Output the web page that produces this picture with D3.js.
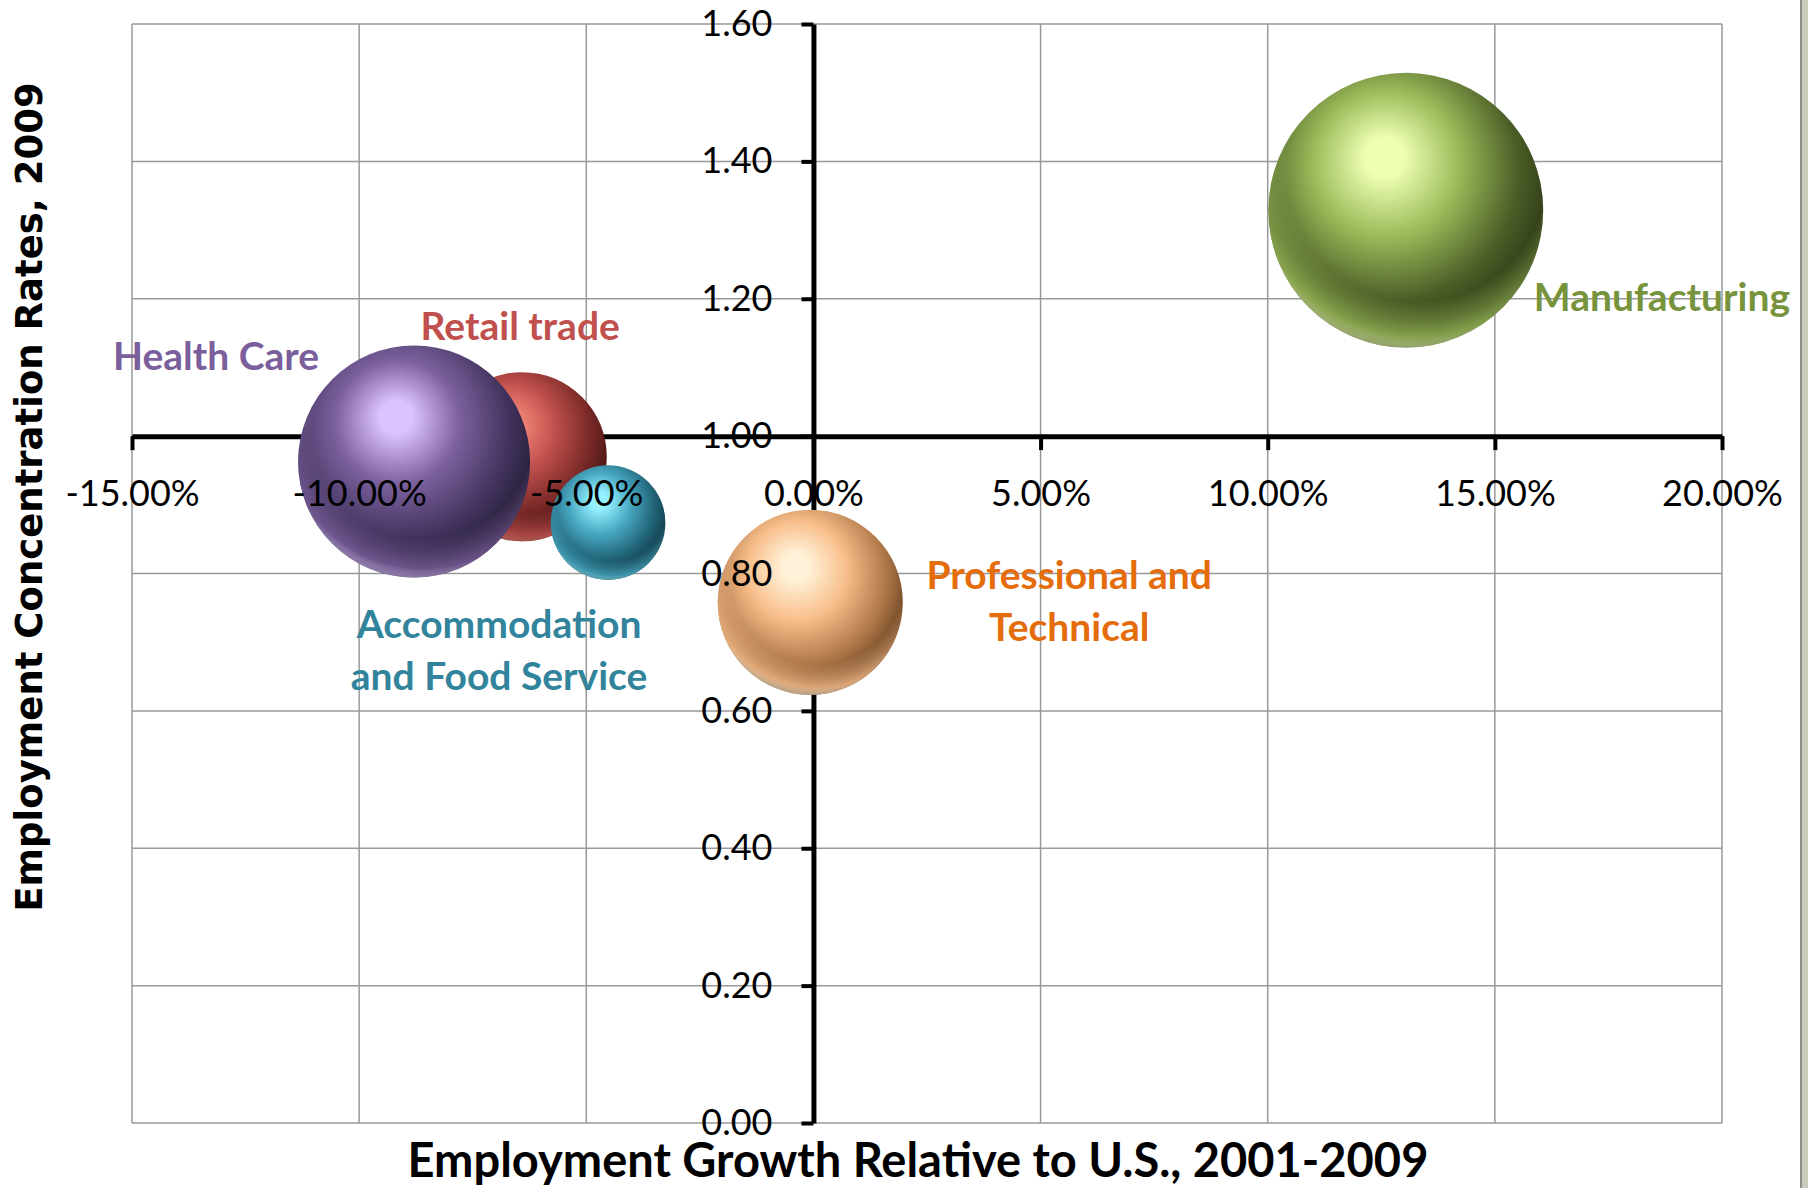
<!DOCTYPE html>
<html>
<head>
<meta charset="utf-8">
<script src="https://cdn.jsdelivr.net/npm/d3@7/dist/d3.min.js"></script>
<style>
  html, body { margin: 0; padding: 0; background: #ffffff; }
  svg { display: block; }
</style>
</head>
<body>
<svg id="chart" width="1808" height="1188"></svg>
<script>
// ---------------- DATA ----------------
const categories = ["Manufacturing", "Retail trade", "Health Care", "Accommodation and Food Service", "Professional and Technical"];
const labelLines = [["Manufacturing"], ["Retail trade"], ["Health Care"], ["Accommodation", "and Food Service"], ["Professional and", "Technical"]];
const growthRelativeToUS = [0.1304, -0.0641, -0.0879, -0.0452, -0.0007];   // x
const concentrationRate2009 = [1.329, 0.970, 0.963, 0.874, 0.758];           // y
const bubbleSize = [100, 37.9, 71.3, 17.4, 45.4];                             // relative employment size
const xTickValues = [-0.15, -0.10, -0.05, 0.00, 0.05, 0.10, 0.15, 0.20];
const yTickValues = [0.00, 0.20, 0.40, 0.60, 0.80, 1.00, 1.20, 1.40, 1.60];

// ---------------- STYLE ----------------
const palette = [
  { hi: "#eeffb4", base: "#9bbb59", dark: "#4b5d27", deep: "#18200a", text: "#77933c" },
  { hi: "#f28678", base: "#c0504d", dark: "#772826", deep: "#260808", text: "#c0504d" },
  { hi: "#dcc2ff", base: "#7c619e", dark: "#42335e", deep: "#120d1b", text: "#7a5f9c" },
  { hi: "#96f2ff", base: "#48a8c2", dark: "#206276", deep: "#08232b", text: "#31849b" },
  { hi: "#fff2d8", base: "#f8bf8c", dark: "#b07848", deep: "#3e220b", text: "#e46c0a" }
];
// label offsets relative to bubble centre (px): [dx, dy of first baseline], anchor
const labelLayout = [
  { dx: 128, dy: 101, anchor: "start" },
  { dx: -2, dy: -117, anchor: "middle" },
  { dx: -198, dy: -92, anchor: "middle" },
  { dx: -109, dy: 115, anchor: "middle" },
  { dx: 259, dy: -13, anchor: "middle" }
];
const lineGap = 52;

const plot = { left: 132, right: 1722, top: 24, bottom: 1123 };

const svg = d3.select("#chart");

const x = d3.scaleLinear().domain([-0.15, 0.20]).range([plot.left, plot.right]);
const y = d3.scaleLinear().domain([0, 1.6]).range([plot.bottom, plot.top]);
const r = d3.scaleSqrt().domain([0, d3.max(bubbleSize)])
  .range([0, 0.125 * Math.min(plot.right - plot.left, plot.bottom - plot.top)]);

const fmtX = d => (d * 100).toFixed(2) + "%";
const fmtY = d => d.toFixed(2);

// right frame stripe
svg.append("rect").attr("x", 1801).attr("y", 0).attr("width", 7).attr("height", 1188).attr("fill", "#c9ccbb");
svg.append("rect").attr("x", 1800).attr("y", 0).attr("width", 2).attr("height", 1188).attr("fill", "#8e8f86");

// ---------------- GRID ----------------
const grid = svg.append("g").attr("stroke", "#999999").attr("stroke-width", 1.5).attr("fill", "none");
grid.selectAll("line.v").data(xTickValues).join("line")
  .attr("x1", d => x(d)).attr("x2", d => x(d)).attr("y1", plot.top).attr("y2", plot.bottom);
grid.selectAll("line.h").data(yTickValues).join("line")
  .attr("x1", plot.left).attr("x2", plot.right).attr("y1", d => y(d)).attr("y2", d => y(d));

// ---------------- AXES (lines) ----------------
const axisFont = "Lato, 'Open Sans', sans-serif";
const xAxisLines = svg.append("g").attr("transform", `translate(0,${y(1.0)})`)
  .call(d3.axisBottom(x).tickValues(xTickValues).tickSize(14).tickSizeOuter(0).tickFormat(""));
const yAxisLines = svg.append("g").attr("transform", `translate(${x(0)},0)`)
  .call(d3.axisLeft(y).tickValues(yTickValues).tickSize(12).tickSizeOuter(0).tickFormat(""));
[xAxisLines, yAxisLines].forEach(g => {
  g.select(".domain").attr("stroke", "#000").attr("stroke-width", 5);
  g.selectAll(".tick line").attr("stroke", "#000").attr("stroke-width", 4);
});

// ---------------- GRADIENTS ----------------
const defs = svg.append("defs");
palette.forEach((p, i) => {
  const g = defs.append("radialGradient").attr("id", "shade" + i)
    .attr("cx", 0.44).attr("cy", 0.38).attr("r", 0.7).attr("fx", 0.42).attr("fy", 0.3);
  g.append("stop").attr("offset", 0).attr("stop-color", p.hi);
  g.append("stop").attr("offset", 0.1).attr("stop-color", p.hi);
  g.append("stop").attr("offset", 0.38).attr("stop-color", p.base);
  g.append("stop").attr("offset", 0.68).attr("stop-color", p.dark);
  g.append("stop").attr("offset", 1).attr("stop-color", p.deep);
  const rim = defs.append("radialGradient").attr("id", "rim" + i)
    .attr("cx", 0.54).attr("cy", 0.36).attr("r", 0.64);
  rim.append("stop").attr("offset", 0.74).attr("stop-color", p.base).attr("stop-opacity", 0);
  rim.append("stop").attr("offset", 0.94).attr("stop-color", p.base).attr("stop-opacity", 0.8);
  rim.append("stop").attr("offset", 1).attr("stop-color", p.hi).attr("stop-opacity", 0.55);
});

// ---------------- BUBBLES ----------------
const data = categories.map((c, i) => ({
  name: c, lines: labelLines[i], gx: growthRelativeToUS[i], cy: concentrationRate2009[i],
  size: bubbleSize[i], i
}));
const bubbles = svg.append("g").selectAll("g.b").data(data).join("g");
bubbles.append("circle")
  .attr("cx", d => x(d.gx)).attr("cy", d => y(d.cy)).attr("r", d => r(d.size))
  .attr("fill", d => `url(#shade${d.i})`);
bubbles.append("circle")
  .attr("cx", d => x(d.gx)).attr("cy", d => y(d.cy)).attr("r", d => r(d.size))
  .attr("fill", d => `url(#rim${d.i})`);

// ---------------- AXES (labels) ----------------
const xLab = svg.append("g").attr("transform", `translate(0,${y(1.0)})`)
  .call(d3.axisBottom(x).tickValues(xTickValues).tickSize(0).tickPadding(44).tickFormat(fmtX));
const yLab = svg.append("g").attr("transform", `translate(${x(0)},0)`)
  .call(d3.axisLeft(y).tickValues(yTickValues).tickSize(0).tickPadding(41).tickFormat(fmtY));
[xLab, yLab].forEach(g => {
  g.select(".domain").remove();
  g.selectAll(".tick line").remove();
  g.selectAll("text").attr("font-family", axisFont).attr("font-size", 36).attr("fill", "#000");
});

// ---------------- DATA LABELS ----------------
const labels = svg.append("g").selectAll("text").data(data).join("text")
  .attr("font-family", axisFont).attr("font-weight", 700).attr("font-size", 39)
  .attr("fill", d => palette[d.i].text)
  .attr("text-anchor", d => labelLayout[d.i].anchor);
labels.selectAll("tspan").data(d => d.lines.map((t, k) => ({ t, k, d }))).join("tspan")
  .attr("x", o => x(o.d.gx) + labelLayout[o.d.i].dx)
  .attr("y", o => y(o.d.cy) + labelLayout[o.d.i].dy + o.k * lineGap)
  .text(o => o.t);

// ---------------- TITLES ----------------
svg.append("text")
  .attr("x", 918).attr("y", 1177)
  .attr("text-anchor", "middle")
  .attr("font-family", axisFont).attr("font-weight", 700).attr("font-size", 47)
  .attr("fill", "#000")
  .text("Employment Growth Relative to U.S., 2001-2009");

svg.append("text")
  .attr("transform", "translate(42,497) rotate(-90)")
  .attr("text-anchor", "middle")
  .attr("font-family", "'DejaVu Sans', Verdana, sans-serif").attr("font-weight", 700).attr("font-size", 37)
  .attr("fill", "#000")
  .text("Employment Concentration Rates, 2009");
</script>
</body>
</html>
